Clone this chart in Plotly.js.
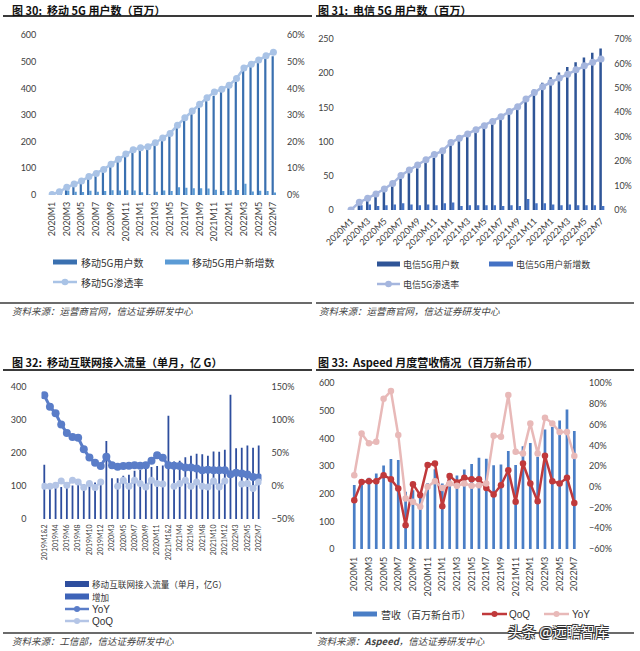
<!DOCTYPE html>
<html><head><meta charset="utf-8">
<script src="https://cdn.plot.ly/plotly-3.0.1.min.js"></script>
<style>html,body{margin:0;padding:0;background:#fff}#chart{width:640px;height:651px}</style>
</head><body><div id="chart"></div>
<script>
// ---------- data ----------
const months = ['2020M1','2020M2','2020M3','2020M4','2020M5','2020M6','2020M7','2020M8','2020M9','2020M10','2020M11','2020M12',
  '2021M1','2021M2','2021M3','2021M4','2021M5','2021M6','2021M7','2021M8','2021M9','2021M10','2021M11','2021M12',
  '2022M1','2022M2','2022M3','2022M4','2022M5','2022M6','2022M7'];
const monthTicks = ['2020M1','2020M3','2020M5','2020M7','2020M9','2020M11','2021M1','2021M3','2021M5','2021M7','2021M9','2021M11','2022M1','2022M3','2022M5','2022M7'];

// Fig 30: China Mobile 5G users (million)
const mobileUsers = [2, 12, 29, 41, 52, 68, 80, 95, 113, 130, 148, 165, 175, 178, 190, 207, 222, 251, 278, 303, 328, 352, 372, 387, 406, 425, 467, 480, 496, 511, 520];
const mobileNew   = [0, 10, 17, 12, 11, 16, 12, 15, 18, 17, 18, 17, 10, 3, 12, 17, 15, 29, 27, 25, 25, 24, 20, 15, 19, 19, 42, 13, 16, 15, 9];
const mobilePen   = [0.002, 0.012, 0.029, 0.041, 0.052, 0.069, 0.081, 0.096, 0.115, 0.134, 0.154, 0.170, 0.177, 0.181, 0.196, 0.214, 0.231, 0.262, 0.290, 0.315, 0.340, 0.365, 0.386, 0.397, 0.412, 0.437, 0.476, 0.490, 0.506, 0.522, 0.535];

// Fig 31: China Telecom 5G users (million)
const telecomUsers = [0, 7, 15, 21, 28, 36, 46, 54, 61, 69, 76, 86, 97, 103, 110, 117, 124, 131, 137, 144, 150, 166, 176, 186, 194, 201, 209, 216, 223, 230, 236];
const telecomNew   = [0, 7, 8, 6, 7, 8, 10, 8, 7, 8, 7, 10, 11, 6, 7, 7, 7, 7, 6, 7, 6, 16, 10, 10, 8, 7, 8, 7, 7, 7, 6];
const telecomPen   = [0, 0.032, 0.048, 0.066, 0.086, 0.109, 0.141, 0.164, 0.184, 0.206, 0.227, 0.243, 0.276, 0.294, 0.311, 0.328, 0.345, 0.362, 0.382, 0.403, 0.423, 0.454, 0.481, 0.505, 0.523, 0.540, 0.556, 0.574, 0.590, 0.605, 0.618];

// Fig 32: mobile internet traffic (single month, 100M GB)
const flowCats = ['2019M1&2','2019M3','2019M4','2019M5','2019M6','2019M7','2019M8','2019M9','2019M10','2019M11','2019M12',
  '2020M1&2','2020M3','2020M4','2020M5','2020M6','2020M7','2020M8','2020M9','2020M10','2020M11','2020M12',
  '2021M1&2','2021M3','2021M4','2021M5','2021M6','2021M7','2021M8','2021M9','2021M10','2021M11','2021M12',
  '2022M1&2','2022M3','2022M4','2022M5','2022M6','2022M7'];
const flowTicks = ['2019M1&2','2019M4','2019M6','2019M8','2019M10','2019M12','2020M3','2020M5','2020M7','2020M9','2020M11',
  '2021M1&2','2021M4','2021M6','2021M8','2021M10','2021M12','2022M3','2022M5','2022M7'];
const flowTraffic = [164, 92, 94, 97, 99, 101, 103, 106, 108, 110, 115, 236, 123, 123, 131, 134, 146, 148, 154, 157, 160, 162, 312, 174, 176, 187, 191, 197, 196, 191, 204, 203, 209, 376, 214, 215, 222, 215, 222];
const flowYoY = [1.37, 1.197, 1.097, 0.93, 0.80, 0.74, 0.727, 0.556, 0.43, 0.35, 0.30,
  0.44, 0.314, 0.288, 0.30, 0.305, 0.314, 0.305, 0.314, 0.38, 0.465, 0.424,
  0.314, 0.305, 0.30, 0.279, 0.279, 0.264, 0.238, 0.246, 0.238, 0.238, 0.238,
  0.177, 0.197, 0.187, 0.173, 0.136, 0.127];
const flowQoQ = [-0.005, -0.005, 0.01, 0.076, 0.01, 0.086, 0.06, -0.024, 0.036, -0.024, 0.06,
  null, null, -0.005, 0.086, -0.005, 0.086, 0.036, -0.015, 0.086, 0.036, 0.03,
  null, -0.005, 0.036, 0.086, -0.005, 0.06, -0.005, -0.015, 0.076, -0.015, 0.076,
  null, null, 0.03, 0.036, -0.04, 0.06];

// Fig 33: Aspeed monthly revenue (NT$ million)
const aspeedRevenue = [232, 244, 258, 273, 302, 326, 322, 207, 213, 196, 238, 289, 237, 255, 266, 288, 308, 330, 327, 303, 306, 355, 304, 372, 384, 334, 433, 442, 465, 505, 427];
const aspeedQoQ = [-0.129, 0.048, 0.055, 0.055, 0.113, 0.074, -0.016, -0.37, 0.026, -0.08, 0.21, 0.226, -0.187, 0.106, 0.042, 0.087, 0.074, 0.074, -0.01, -0.074, 0.016, 0.16, -0.145, 0.226, 0.033, -0.138, 0.30, 0.055, 0.033, 0.087, -0.155];
const aspeedYoY = [0.113, 0.516, 0.42, 0.435, 0.85, 0.925, 0.50, -0.112, -0.145, -0.193, 0.0, 0.055, -0.01, 0.033, 0.01, 0.033, 0.01, 0.016, 0.033, 0.493, 0.483, 0.886, 0.338, 0.323, 0.613, 0.323, 0.667, 0.613, 0.53, 0.53, 0.297];

// ---------- styling ----------
const C = {
  mUsers:'#3A70B0', mNew:'#5B9BD5', mPen:'#A9C3E6',
  tUsers:'#2F5597', tNew:'#4472C4', tPen:'#A5B6DE',
  flow:'#2E4E9E', fYoY:'#5A7DC8', fQoQ:'#B4C5E6',
  rev:'#4A7EC6', aQoQ:'#C0393B', aYoY:'#E8B9B8'
};
const NUMF = 'Lato, "Noto Sans", "Noto Sans CJK SC", sans-serif';
const CJK = '"Noto Sans CJK SC", "Noto Sans", sans-serif';
const LAT = '"Liberation Sans", Arial, sans-serif';
const W = 640, H = 651;
const px = x => x / W, py = y => 1 - y / H;

const traces = [
  {type:'bar', x:months, y:mobileUsers, xaxis:'x', yaxis:'y', name:'移动5G用户数', marker:{color:C.mUsers}, width:0.3, offset:-0.25},
  {type:'bar', x:months, y:mobileNew, xaxis:'x', yaxis:'y', name:'移动5G用户新增数', marker:{color:C.mNew}, width:0.3, offset:0.05},
  {type:'scatter', mode:'lines+markers', x:months, y:mobilePen, xaxis:'x', yaxis:'y2', name:'移动5G渗透率', line:{color:C.mPen, width:2.5}, marker:{color:C.mPen, size:7}},

  {type:'bar', x:months, y:telecomUsers, xaxis:'x2', yaxis:'y3', name:'电信5G用户数', marker:{color:C.tUsers}, width:0.3, offset:-0.2},
  {type:'bar', x:months, y:telecomNew, xaxis:'x2', yaxis:'y3', name:'电信5G用户新增数', marker:{color:C.tNew}, width:0.3, offset:0.1},
  {type:'scatter', mode:'lines+markers', x:months, y:telecomPen, xaxis:'x2', yaxis:'y4', name:'电信5G渗透率', line:{color:C.tPen, width:2.5}, marker:{color:C.tPen, size:7}},

  {type:'bar', x:flowCats, y:flowTraffic, xaxis:'x3', yaxis:'y5', name:'移动互联网接入流量（单月，亿G）', marker:{color:C.flow}, width:0.32, offset:-0.16},
  {type:'scatter', mode:'lines+markers', x:flowCats, y:flowYoY, xaxis:'x3', yaxis:'y6', name:'YoY', line:{color:C.fYoY, width:3}, marker:{color:C.fYoY, size:8}, connectgaps:false},
  {type:'scatter', mode:'lines+markers', x:flowCats, y:flowQoQ, xaxis:'x3', yaxis:'y6', name:'QoQ', line:{color:C.fQoQ, width:2.5}, marker:{color:C.fQoQ, size:7}, connectgaps:false},

  {type:'bar', x:months, y:aspeedRevenue, xaxis:'x4', yaxis:'y7', name:'营收（百万新台币）', marker:{color:C.rev}, width:0.37, offset:-0.185},
  {type:'scatter', mode:'lines+markers', x:months, y:aspeedQoQ, xaxis:'x4', yaxis:'y8', name:'QoQ', line:{color:C.aQoQ, width:2.5}, marker:{color:C.aQoQ, size:6.5}},
  {type:'scatter', mode:'lines+markers', x:months, y:aspeedYoY, xaxis:'x4', yaxis:'y8', name:'YoY', line:{color:C.aYoY, width:2.5}, marker:{color:C.aYoY, size:6.5}}
];

const tickFont = {family:NUMF, size:9, color:'#404040'};
function xax(domain, anchor, ticks, angle, size, standoff){
  return {domain, anchor, type:'category', range:[-0.5, ticks.n - 0.5], tickmode:'array', tickvals:ticks.v, ticktext:ticks.v,
    tickangle:angle, showgrid:false, zeroline:false, showline:false, ticks:'', tickfont:{family:NUMF, size:size, color:'#404040'},
    ticklabelstandoff:standoff, fixedrange:true};
}
function yax(extra){
  return Object.assign({showgrid:false, zeroline:false, showline:false, ticks:'', tickfont:tickFont, fixedrange:true}, extra);
}

const layout = {
  width:W, height:H, margin:{l:0, r:0, t:0, b:0}, paper_bgcolor:'#fff', plot_bgcolor:'rgba(0,0,0,0)',
  showlegend:false, barmode:'overlay', hovermode:false, font:{family:NUMF, size:9, color:'#404040'},
  xaxis:  xax([0.0755, 0.4330], 'y',  {v:monthTicks, n:months.length}, -90, 9, 4),
  yaxis:  yax({domain:[0.7005, 0.9462], anchor:'x', range:[0, 600], dtick:100, ticklabelstandoff:11}),
  yaxis2: yax({overlaying:'y', side:'right', anchor:'x', range:[0, 0.6], dtick:0.1, tickformat:'.0%', ticklabelstandoff:9}),

  xaxis2: xax([0.5419, 0.9456], 'y3', {v:monthTicks, n:months.length}, -45, 9, 3),
  yaxis3: yax({domain:[0.6774, 0.9401], anchor:'x2', range:[0, 250], dtick:50, ticklabelstandoff:12}),
  yaxis4: yax({overlaying:'y3', side:'right', anchor:'x2', range:[0, 0.7], dtick:0.1, tickformat:'.0%', ticklabelstandoff:8}),

  xaxis3: xax([0.0648, 0.4086], 'y5', {v:flowTicks, n:flowCats.length}, -90, 7, 3),
  yaxis5: yax({domain:[0.2028, 0.4060], anchor:'x3', range:[0, 400], dtick:100, ticklabelstandoff:14}),
  yaxis6: yax({overlaying:'y5', side:'right', anchor:'x3', range:[-0.5, 1.5], dtick:0.5, tickformat:'.0%', ticklabelstandoff:9}),

  xaxis4: xax([0.5478, 0.9031], 'y7', {v:monthTicks, n:months.length}, -90, 9, 5),
  yaxis7: yax({domain:[0.1567, 0.4112], anchor:'x4', range:[0, 600], dtick:100, ticklabelstandoff:15}),
  yaxis8: yax({overlaying:'y7', side:'right', anchor:'x4', range:[-0.6, 1.0], dtick:0.2, tickformat:'.0%', ticklabelstandoff:10}),
  shapes:[], annotations:[]
};

const S = layout.shapes, A = layout.annotations;
function hline(x0, x1, y, w, color){ S.push({type:'line', xref:'paper', yref:'paper', x0:px(x0), x1:px(x1), y0:py(y), y1:py(y), line:{color:color, width:w}}); }
function text(x, y, t, opts){
  A.push(Object.assign({xref:'paper', yref:'paper', x:px(x), y:py(y), text:t, showarrow:false, xanchor:'left', yanchor:'middle',
    borderpad:0, font:{family:CJK, size:10, color:'#333'}}, opts||{}));
}
function barKey(x0, x1, y, h, color){ S.push({type:'rect', xref:'paper', yref:'paper', x0:px(x0), x1:px(x1), y0:py(y + h/2), y1:py(y - h/2), line:{width:0}, fillcolor:color}); }
function lineKey(x0, x1, y, color, w, r){
  S.push({type:'line', xref:'paper', yref:'paper', x0:px(x0), x1:px(x1), y0:py(y), y1:py(y), line:{color:color, width:w}});
  const xc = (x0 + x1) / 2;
  S.push({type:'circle', xref:'paper', yref:'paper', x0:px(xc - r), x1:px(xc + r), y0:py(y + r), y1:py(y - r), line:{width:0}, fillcolor:color});
}

// titles and rules
const titleFont = {family:CJK, size:11, color:'#111', weight:'bold'};
text(11, 10, '图 30:  移动 5G 用户数（百万）', {font:titleFont});
text(317, 10, '图 31:  电信 5G 用户数（百万）', {font:titleFont});
text(11, 362, '图 32:  移动互联网接入流量（单月，亿 G）', {font:titleFont});
text(317, 362, '图 33:  Aspeed 月度营收情况（百万新台币）', {font:titleFont});
hline(3, 312, 16, 1.8, '#3a3a3a'); hline(316, 634, 16, 1.8, '#3a3a3a');
hline(3, 312, 370, 1.8, '#3a3a3a'); hline(316, 634, 370, 1.8, '#3a3a3a');
hline(0, 312, 303, 1.3, '#3a3a3a'); hline(316, 634, 303, 1.3, '#3a3a3a');
hline(3, 312, 633, 1.3, '#3a3a3a'); hline(316, 634, 633, 1.3, '#3a3a3a');

const srcFont = {family:CJK, size:9.5, color:'#444', style:'italic'};
text(11, 311, '资料来源：运营商官网，信达证券研发中心', {font:srcFont});
text(318, 311, '资料来源：运营商官网，信达证券研发中心', {font:srcFont});
text(11, 641, '资料来源：工信部，信达证券研发中心', {font:srcFont});
text(316, 641, '资料来源：<b>Aspeed</b>，信达证券研发中心', {font:srcFont});

// legends (manual)
barKey(53, 77, 262, 5, C.mUsers); text(80, 262, '移动5G用户数');
barKey(165, 189, 262, 5, C.mNew); text(191, 262, '移动5G用户新增数');
lineKey(53, 77, 282, C.mPen, 2.5, 3.3); text(80, 282, '移动5G渗透率');

const f9 = {font:{family:CJK, size:9, color:'#333'}};
barKey(377, 400, 264, 5, C.tUsers); text(402, 264, '电信5G用户数', f9);
barKey(489, 513, 264, 5, C.tNew); text(515, 264, '电信5G用户新增数', f9);
lineKey(377, 400, 284, C.tPen, 2.5, 3.3); text(402, 284, '电信5G渗透率', f9);

const fC = {font:{family:CJK, size:8.6, color:'#333'}};
const fL = {font:{family:LAT, size:10, color:'#333'}};
barKey(65, 89, 584, 6, C.flow); text(91, 584, '移动互联网接入流量（单月，亿G）', fC);
barKey(65, 89, 596.5, 6, '#3D63B8'); text(91, 596.5, '增加', fC);
lineKey(65, 89, 609, C.fYoY, 2.5, 3); text(91, 609, 'YoY', fL);
lineKey(65, 89, 621, C.fQoQ, 2.5, 3); text(91, 621, 'QoQ', fL);

barKey(353, 377, 614, 5, C.rev); text(380, 614, '营收（百万新台币）');
lineKey(482, 507, 614, C.aQoQ, 2.5, 3); text(508, 614, 'QoQ', fL);
lineKey(544, 569, 614, C.aYoY, 2.5, 3); text(571, 614, 'YoY', fL);

// watermark
text(507, 631, '头条 @远瞻智库', {font:{family:CJK, size:14, color:'#ffffff',
  shadow:'-1px -1px 0 #333, 1px -1px 0 #333, -1px 1px 0 #333, 1px 1px 0 #333'}});

Plotly.newPlot('chart', traces, layout, {displayModeBar:false, staticPlot:true});
</script>
</body></html>
